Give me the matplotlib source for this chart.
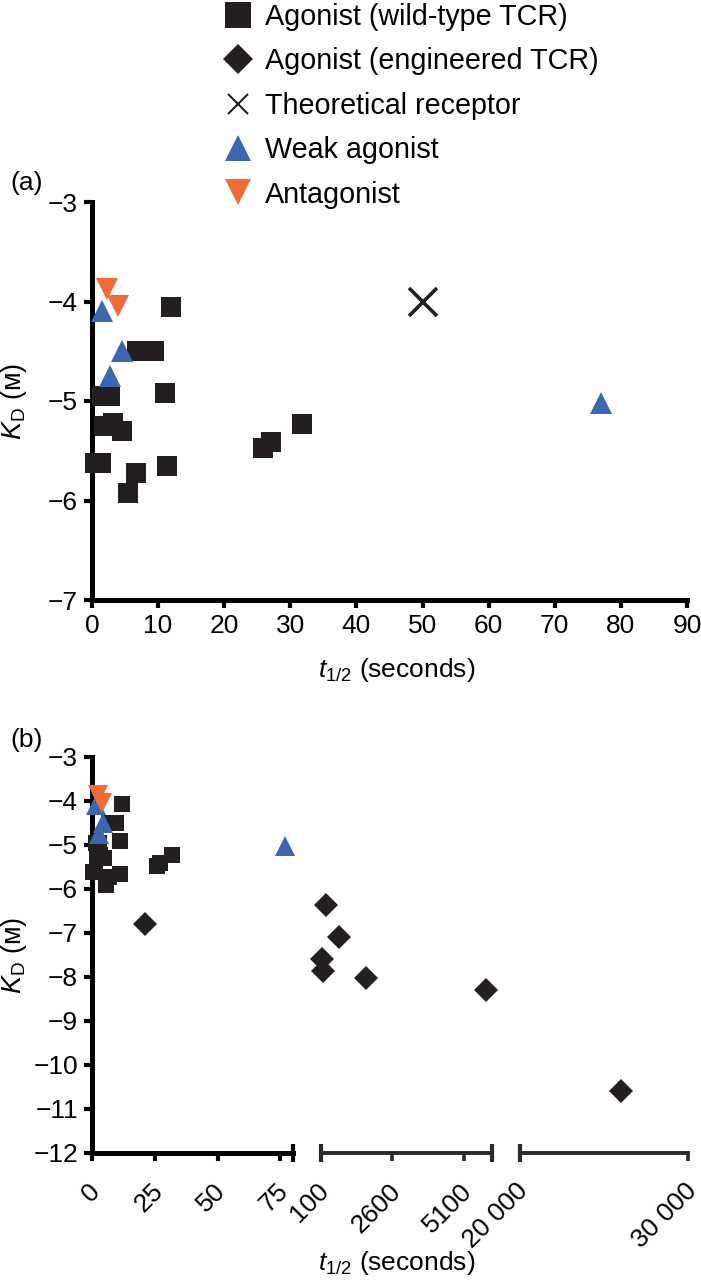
import numpy as np
import matplotlib.pyplot as plt
import matplotlib.transforms as mtransforms
from matplotlib.lines import Line2D

plt.rcParams['font.family'] = ['Liberation Sans', 'DejaVu Sans']
plt.rcParams['mathtext.fontset'] = 'custom'
plt.rcParams['mathtext.rm'] = 'Liberation Sans'
plt.rcParams['mathtext.it'] = 'Liberation Sans:italic'

# t1/2 (seconds) and log10 KD (M)
wt_t = [0.5, 1.3, 1.5, 2.7, 1.8, 3.2, 4.6, 5.5, 6.6, 6.8, 8.0, 9.4, 11.1, 11.3, 11.9, 25.9, 27.0, 31.7]
wt_kd = [-5.62, -5.62, -4.95, -4.95, -5.25, -5.22, -5.3, -5.92, -5.72, -4.5, -4.5, -4.5, -4.92, -5.65, -4.06, -5.47, -5.41, -5.23]
eng_t = [21, 275, 730, 135, 170, 1675, 5900, 26000]
eng_kd = [-6.8, -6.36, -7.09, -7.59, -7.86, -8.02, -8.3, -10.6]
theo_t = [50]
theo_kd = [-4.0]
weak_t = [1.5, 2.7, 4.5, 77]
weak_kd = [-4.1, -4.75, -4.5, -5.02]
ant_t = [2.3, 4.0]
ant_kd = [-3.87, -4.05]

seg_lims = [(0, 80), (100, 6100), (20000, 30000)]
seg_ticks = [[0, 25, 50, 75], [100, 2600, 5100], [20000, 30000]]
seg_labels = [['0', '25', '50', '75'], ['100', '2600', '5100'], ['20 000', '30 000']]

BLACK = '#231f20'
BLUE = '#3a66b2'
ORANGE = '#f26b35'
TICKFS = 19
LABFS = 19

W, H = 701, 1285
fig = plt.figure(figsize=(W / 100, H / 100), dpi=100)


def fx(px):
    return px / W


def fy(py):
    return 1 - py / H


def style_spines(ax, lw=3.6, tcol='black', tw=3):
    for s in ['top', 'right']:
        ax.spines[s].set_visible(False)
    for s in ['left', 'bottom']:
        ax.spines[s].set_linewidth(lw)
        ax.spines[s].set_color(tcol)
    ax.tick_params(direction='out', length=6, width=tw, color=tcol,
                   labelsize=TICKFS, pad=4)


def draw_points(ax, lo, hi, sq=14, dia=12.5, tri=16, theo=True, eng=True):
    def m(t):
        t = np.asarray(t, float)
        return (t >= lo) & (t <= hi)
    t, k = np.array(wt_t), np.array(wt_kd)
    ax.plot(t[m(t)], k[m(t)], 's', color=BLACK, ms=sq, mew=0, clip_on=False, zorder=3)
    if eng:
        t, k = np.array(eng_t), np.array(eng_kd)
        ax.plot(t[m(t)], k[m(t)], 'D', color=BLACK, ms=dia, mew=0, clip_on=False, zorder=3)
    if theo:
        t, k = np.array(theo_t), np.array(theo_kd)
        ax.plot(t[m(t)], k[m(t)], 'x', color=BLACK, ms=20, mew=2.6, clip_on=False, zorder=3)
    t, k = np.array(weak_t), np.array(weak_kd)
    ax.plot(t[m(t)], k[m(t)], '^', color=BLUE, ms=tri, mew=0, clip_on=False, zorder=4)
    t, k = np.array(ant_t), np.array(ant_kd)
    ax.plot(t[m(t)], k[m(t)], 'v', color=ORANGE, ms=tri, mew=0, clip_on=False, zorder=4)


# ---- panel (a)
axa = fig.add_axes([fx(92), fy(600), fx(595), (600 - 202) / H])
style_spines(axa)
axa.set_xlim(0, 90)
axa.set_ylim(-7, -3)
axa.set_xticks(range(0, 91, 10))
axa.set_yticks(range(-7, -2))
draw_points(axa, 0, 90, eng=False)
axa.set_ylabel(r'$K_{\mathrm{D}}$ (ᴍ)', fontsize=LABFS + 0.5)
axa.yaxis.set_label_coords(-63 / 595, 0.5)
fig.text(fx(397), fy(670), r'$t_{\mathrm{1/2}}$ (seconds)', fontsize=LABFS,
         ha='center', va='center')
fig.text(fx(10), fy(183), '(a)', fontsize=LABFS, va='center', ha='left')

# ---- panel (b), broken x axis
lefts = [92, 321, 520]
widths = [201, 171, 168]
axes_b = []
for i, (lo, hi) in enumerate(seg_lims):
    ax = fig.add_axes([fx(lefts[i]), fy(1153), fx(widths[i]), (1153 - 757) / H])
    col = 'black' if i == 0 else '#2a2a2a'
    style_spines(ax, lw=3.6 if i == 0 else 2.8, tcol=col, tw=3 if i == 0 else 2.6)
    ax.set_xlim(lo, hi)
    ax.set_ylim(-12, -3)
    ax.set_xticks(seg_ticks[i])
    if i == 0:
        ax.set_yticks(range(-12, -2))
        ax.set_ylabel(r'$K_{\mathrm{D}}$ (ᴍ)', fontsize=LABFS + 0.5)
        ax.yaxis.set_label_coords(-63 / widths[0], 0.5)
    else:
        ax.spines['left'].set_visible(False)
        ax.set_yticks([])
    ax.patch.set_alpha(0)
    draw_points(ax, lo, hi, sq=12, dia=12.5, tri=15, theo=False)
    # break caps
    ends = {0: [1], 1: [0, 1], 2: [0]}[i]
    for e in ends:
        ax.plot([e, e], [-0.022, 0.022], transform=ax.transAxes, color=col,
                lw=3, clip_on=False, solid_capstyle='butt')
    axes_b.append(ax)

fig.text(fx(397), fy(1263), r'$t_{\mathrm{1/2}}$ (seconds)', fontsize=LABFS,
         ha='center', va='center')
fig.text(fx(10), fy(740), '(b)', fontsize=LABFS, va='center', ha='left')

# ---- legend
handles = [
    Line2D([], [], marker='s', ls='none', color=BLACK, ms=19, mew=0),
    Line2D([], [], marker='D', ls='none', color=BLACK, ms=15, mew=0),
    Line2D([], [], marker='x', ls='none', color=BLACK, ms=14, mew=1.5),
    Line2D([], [], marker='^', ls='none', color=BLUE, ms=19, mew=0),
    Line2D([], [], marker='v', ls='none', color=ORANGE, ms=19, mew=0),
]
labels = ['Agonist (wild-type TCR)', 'Agonist (engineered TCR)',
          'Theoretical receptor', 'Weak agonist', 'Antagonist']
fig.legend(handles, labels, loc='upper left', bbox_to_anchor=(fx(225), fy(3)),
           frameon=False, fontsize=20.7, handlelength=0.9, handletextpad=0.5,
           labelspacing=0.57, borderpad=0, borderaxespad=0)

# rotated tick labels of the broken axis, set after a first draw
fig.canvas.draw()
shift = mtransforms.ScaledTranslation(-4 / 100, -12 / 100, fig.dpi_scale_trans)
for i, ax in enumerate(axes_b):
    ax.set_xticks(seg_ticks[i], seg_labels[i])
    for lab in ax.get_xticklabels():
        lab.set_fontsize(TICKFS)
        lab.set_rotation(45)
        lab.set_rotation_mode('anchor')
        lab.set_ha('right')
        lab.set_va('top')
        lab.set_transform(lab.get_transform() + shift)

fig.savefig('out.png', dpi=100)
